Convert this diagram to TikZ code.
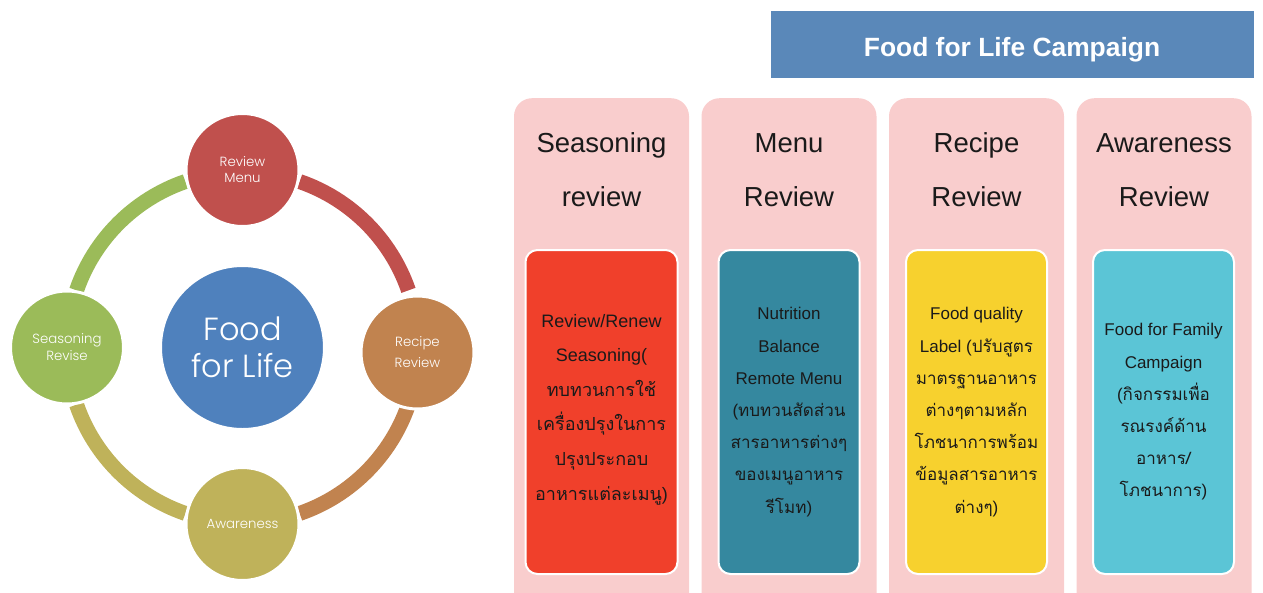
\documentclass[tikz,border=0pt]{standalone}
\usepackage{fontspec}
\setmainfont{Liberation Sans}
\newfontfamily\thai[Script=Thai]{Loma}
\newfontfamily\geo{Poppins}[UprightFont=* Light]
\definecolor{cRed}{HTML}{C0504D}
\definecolor{cOrange}{HTML}{C1834F}
\definecolor{cOlive}{HTML}{BFB25A}
\definecolor{cGreen}{HTML}{9BBB59}
\definecolor{cBlue}{HTML}{4F81BD}
\definecolor{hdrBlue}{HTML}{5A88B9}
\definecolor{colPink}{HTML}{F9CDCD}
\definecolor{bxRed}{HTML}{F0402B}
\definecolor{bxTeal}{HTML}{35889F}
\definecolor{bxYellow}{HTML}{F7D12E}
\definecolor{bxCyan}{HTML}{5BC5D6}
\definecolor{ink}{HTML}{1A1A1A}
\begin{document}
\begin{tikzpicture}[x=1pt,y=-1pt,
  stage/.style={circle,minimum size=113pt,inner sep=0pt,draw=white,line width=3pt,
    text=white,align=center,font=\geo\fontsize{13.3}{16}\selectfont},
  hub/.style={circle,minimum size=163pt,inner sep=0pt,draw=white,line width=2pt,fill=cBlue,
    text=white,align=center,font=\geo\fontsize{32}{37}\selectfont},
  ringarc/.style={line width=15pt,line cap=butt},
  column/.style={rounded corners=18pt,fill=colPink,minimum width=175pt,minimum height=540pt,
    anchor=north,inner sep=0pt},
  colhead/.style={text=ink,align=center,font=\fontsize{27.5}{54}\selectfont},
  card/.style={rounded corners=12pt,draw=white,line width=2pt,minimum height=324pt,
    inner sep=0pt,anchor=north},
  cardtext/.style={text=ink,align=center,font=\fontsize{17}{32.2}\selectfont},
  banner/.style={fill=hdrBlue,minimum width=483pt,minimum height=67pt,inner sep=0pt,
    text height=23pt,text depth=0pt,
    text=white,font=\bfseries\fontsize{26.4}{30}\selectfont}
]
\useasboundingbox (0,0) rectangle (1263,592);
\clip (0,0) rectangle (1263,592);

% ---- cycle on the left ----
\coordinate (ring) at (242.5,347.5);
\draw[ringarc,cRed]    (ring) ++(-71:175.5) arc (-71:-19:175.5);
\draw[ringarc,cOrange] (ring) ++(19:175.5) arc (19:71:175.5);
\draw[ringarc,cOlive]  (ring) ++(109:175.5) arc (109:161:175.5);
\draw[ringarc,cGreen]  (ring) ++(-161:175.5) arc (-161:-109:175.5);

\node[hub] (food) at (ring) {Food\\for Life};
\node[stage,fill=cRed]    (menu)   at (242.5,170) {Review\\Menu};
\node[stage,fill=cOrange,font=\geo\fontsize{13.3}{21}\selectfont] (recipe) at (417.5,352.5) {Recipe\\Review};
\node[stage,fill=cOlive]  (aware)  at (242.5,524) {Awareness};
\node[stage,fill=cGreen,font=\geo\fontsize{13.3}{17}\selectfont]  (season) at (67,347.5) {Seasoning\\Revise};

% ---- campaign banner ----
\node[banner] (title) at (1012,44.5) {Food for Life Campaign};

% ---- four review columns ----
\node[column] (col1) at (601.5,98) {};
\node[column] (col2) at (789,98) {};
\node[column] (col3) at (976.5,98) {};
\node[column] (col4) at (1164,98) {};

\node[colhead] (h1) at (601.5,170) {Seasoning\\review};
\node[colhead] (h2) at (789,170) {Menu\\Review};
\node[colhead] (h3) at (976.5,170) {Recipe\\Review};
\node[colhead] (h4) at (1164,170) {Awareness\\Review};

\node[card,fill=bxRed,minimum width=152pt]    (b1) at (601.5,249) {};
\node[card,fill=bxTeal,minimum width=141pt]   (b2) at (789,249) {};
\node[card,fill=bxYellow,minimum width=141pt] (b3) at (976.5,249) {};
\node[card,fill=bxCyan,minimum width=141pt]   (b4) at (1163.5,249) {};

\node[cardtext,font=\fontsize{18}{34.6}\selectfont] (t1) at ([yshift=2.5pt]b1) {Review/Renew\\Seasoning(\\{\thai ทบทวนการใช้}\\{\thai เครื่องปรุงในการ}\\{\thai ปรุงประกอบ}\\{\thai อาหารแต่ละเมนู})};
\node[cardtext] (t2) at (b2) {Nutrition\\Balance\\Remote Menu\\({\thai ทบทวนสัดส่วน}\\{\thai สารอาหารต่างๆ}\\{\thai ของเมนูอาหาร}\\{\thai รีโมท})};
\node[cardtext] (t3) at (b3) {Food quality\\Label ({\thai ปรับสูตร}\\{\thai มาตรฐานอาหาร}\\{\thai ต่างๆตามหลัก}\\{\thai โภชนาการพร้อม}\\{\thai ข้อมูลสารอาหาร}\\{\thai ต่างๆ})};
\node[cardtext] (t4) at (b4) {Food for Family\\Campaign\\({\thai กิจกรรมเพื่อ}\\{\thai รณรงค์ด้าน}\\{\thai อาหาร/}\\{\thai โภชนาการ})};
\end{tikzpicture}
\end{document}
